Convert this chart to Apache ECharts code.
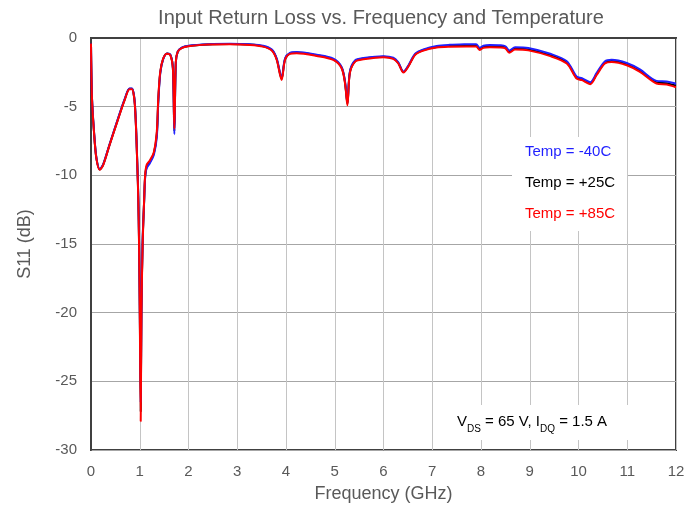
<!DOCTYPE html>
<html>
<head>
<meta charset="utf-8">
<script src="https://cdn.jsdelivr.net/npm/echarts@6/dist/echarts.min.js"></script>
<style>
html,body{margin:0;padding:0;background:#fff;}
#chart{width:697px;height:508px;}
</style>
</head>
<body>
<div id="chart"></div>
<script>
// Frequency points (GHz)
var freq = [0, 0.02, 0.06, 0.11, 0.18, 0.25, 0.38, 0.55, 0.69, 0.79, 0.84, 0.90, 0.95, 0.97, 0.985, 1.0, 1.02, 1.035, 1.06, 1.09, 1.11, 1.14, 1.21, 1.29, 1.35, 1.38, 1.42, 1.48, 1.56, 1.63, 1.68, 1.71, 1.74, 1.78, 1.86, 2.0, 2.4, 2.85, 3.26, 3.53, 3.71, 3.81, 3.91, 3.98, 4.08, 4.22, 4.63, 4.97, 5.14, 5.21, 5.26, 5.31, 5.42, 5.59, 6.0, 6.2, 6.3, 6.41, 6.51, 6.65, 6.82, 7.09, 7.36, 7.7, 7.9, 7.97, 8.05, 8.18, 8.4, 8.5, 8.58, 8.7, 8.97, 9.42, 9.76, 9.96, 10.07, 10.24, 10.37, 10.54, 10.68, 10.99, 11.26, 11.6, 11.81, 11.97, 12.0];

// S11 (dB) at +85C (red)
var s11Hot = [-0.4, -4.4, -6.8, -8.76, -9.6, -9.25, -7.8, -5.98, -4.53, -3.73, -3.73, -4.9, -9.25, -11.8, -14.9, -19.8, -27.9, -20, -14.9, -11.8, -10.0, -9.25, -8.9, -8.3, -6.8, -4.4, -2.47, -1.5, -1.14, -1.26, -2.2, -6.6, -1.74, -1.0, -0.73, -0.6, -0.48, -0.46, -0.51, -0.63, -0.92, -1.6, -3.05, -1.6, -1.16, -1.11, -1.31, -1.6, -2.2, -3.29, -4.9, -2.56, -1.72, -1.55, -1.4, -1.52, -1.84, -2.52, -2.08, -1.23, -0.92, -0.7, -0.64, -0.62, -0.62, -0.87, -0.72, -0.68, -0.69, -0.76, -1.07, -0.84, -0.9, -1.32, -1.86, -2.95, -3.07, -3.36, -2.71, -1.86, -1.74, -1.98, -2.46, -3.31, -3.39, -3.55, -3.57];

// S11 (dB) at -40C (blue)
var s11Cold = [-0.4, -4.3, -6.7, -8.7, -9.55, -9.2, -7.75, -5.9, -4.45, -3.68, -3.68, -4.8, -9.1, -11.5, -14.5, -19.2, -26.5, -19.5, -14.6, -11.9, -10.2, -9.5, -9.1, -8.5, -7.2, -4.7, -2.6, -1.55, -1.12, -1.22, -2.2, -7.0, -1.8, -1.0, -0.7, -0.56, -0.45, -0.42, -0.46, -0.56, -0.84, -1.5, -2.9, -1.5, -1.08, -1.02, -1.22, -1.5, -2.1, -3.15, -4.7, -2.45, -1.62, -1.46, -1.32, -1.44, -1.76, -2.45, -2.0, -1.15, -0.83, -0.58, -0.5, -0.46, -0.45, -0.71, -0.56, -0.51, -0.53, -0.6, -0.91, -0.68, -0.73, -1.15, -1.69, -2.8, -2.93, -3.22, -2.56, -1.71, -1.59, -1.82, -2.29, -3.12, -3.17, -3.3, -3.33];

// S11 (dB) at +25C (black)
var s11Room = [-0.4, -4.35, -6.75, -8.73, -9.58, -9.22, -7.78, -5.94, -4.49, -3.7, -3.7, -4.85, -9.2, -11.65, -14.7, -19.5, -27.2, -19.8, -14.75, -11.85, -10.1, -9.4, -9.0, -8.4, -7.0, -4.55, -2.53, -1.52, -1.13, -1.24, -2.2, -6.8, -1.77, -1.0, -0.72, -0.58, -0.47, -0.44, -0.48, -0.6, -0.88, -1.55, -2.97, -1.55, -1.12, -1.06, -1.26, -1.55, -2.15, -3.22, -4.8, -2.5, -1.67, -1.5, -1.36, -1.48, -1.8, -2.48, -2.04, -1.19, -0.87, -0.65, -0.58, -0.55, -0.55, -0.8, -0.65, -0.6, -0.62, -0.69, -1.0, -0.77, -0.83, -1.25, -1.79, -2.88, -3.01, -3.3, -2.64, -1.8, -1.68, -1.91, -2.39, -3.23, -3.3, -3.44, -3.47];

var seriesNames = ['Temp = -40C', 'Temp = +25C', 'Temp = +85C'];
var seriesColors = ['#1f1fff', '#000000', '#ff0000'];
var xTicks = [0, 1, 2, 3, 4, 5, 6, 7, 8, 9, 10, 11, 12];
var yTicks = [0, -5, -10, -15, -20, -25, -30];

function pairs(vals) {
  return freq.map(function (f, i) { return [f, vals[i]]; });
}

var chart = echarts.init(document.getElementById('chart'), null, {renderer: 'canvas'});
var font = 'Liberation Sans, Arial, sans-serif';
var gray = '#595959';

function lineSeries(name, vals, color, z) {
  return {
    name: name,
    type: 'line',
    data: pairs(vals),
    showSymbol: false,
    smooth: 0.3,
    z: z,
    lineStyle: {color: color, width: 2},
    itemStyle: {color: color}
  };
}

chart.setOption({
  animation: false,
  backgroundColor: '#fff',
  title: {
    text: 'Input Return Loss vs. Frequency and Temperature',
    left: 376, top: 3, textAlign: 'center',
    textStyle: {fontFamily: font, fontSize: 20, fontWeight: 'normal', color: gray}
  },
  grid: {
    left: 91, right: 21, top: 38, bottom: 57,
    show: true, borderColor: '#404040', borderWidth: 2, backgroundColor: 'transparent'
  },
  legend: {
    orient: 'vertical',
    left: 512, top: 137,
    backgroundColor: '#ffffff',
    padding: [7, 12, 10, 8],
    itemWidth: 0, itemHeight: 14, itemGap: 16,
    icon: 'none',
    selectedMode: false,
    textStyle: {fontFamily: font, fontSize: 15},
    data: [
      {name: seriesNames[0], textStyle: {color: seriesColors[0]}},
      {name: seriesNames[1], textStyle: {color: seriesColors[1]}},
      {name: seriesNames[2], textStyle: {color: seriesColors[2]}}
    ]
  },
  xAxis: {
    type: 'value', min: xTicks[0], max: xTicks[xTicks.length - 1], interval: 1,
    name: 'Frequency (GHz)', nameLocation: 'middle', nameGap: 35,
    nameTextStyle: {fontFamily: font, fontSize: 18, color: gray},
    axisLine: {show: true, lineStyle: {color: '#404040', width: 2}},
    axisTick: {show: false},
    axisLabel: {fontFamily: font, fontSize: 15, color: gray, margin: 14},
    splitLine: {show: true, lineStyle: {color: '#c4c4c4', width: 1}}
  },
  yAxis: {
    type: 'value', min: yTicks[yTicks.length - 1], max: yTicks[0], interval: 5,
    name: 'S11 (dB)', nameLocation: 'middle', nameGap: 57, nameRotate: 90,
    nameTextStyle: {fontFamily: font, fontSize: 18, color: gray},
    axisLine: {show: true, lineStyle: {color: '#404040', width: 2}},
    axisTick: {show: false},
    axisLabel: {fontFamily: font, fontSize: 15, color: gray, margin: 14},
    splitLine: {show: true, lineStyle: {color: '#a6a6a6', width: 1}}
  },
  graphic: [
    {
      type: 'rect', left: 445, top: 405, z: 50,
      shape: {width: 215, height: 35},
      style: {fill: '#ffffff'}
    },
    {
      type: 'text', left: 457, top: 413, z: 51,
      style: {
        text: 'V{sub|DS} = 65 V, I{sub|DQ} = 1.5 A',
        fontFamily: font, fontSize: 15, fill: '#000', lineHeight: 18,
        rich: {sub: {fontSize: 10, fontFamily: font, fill: '#000', verticalAlign: 'bottom', lineHeight: 10, padding: [0, 0, -3, 0]}}
      }
    }
  ],
  series: [
    lineSeries(seriesNames[1], s11Room, seriesColors[1], 2),
    lineSeries(seriesNames[0], s11Cold, seriesColors[0], 3),
    lineSeries(seriesNames[2], s11Hot, seriesColors[2], 4)
  ]
});
</script>
</body>
</html>
